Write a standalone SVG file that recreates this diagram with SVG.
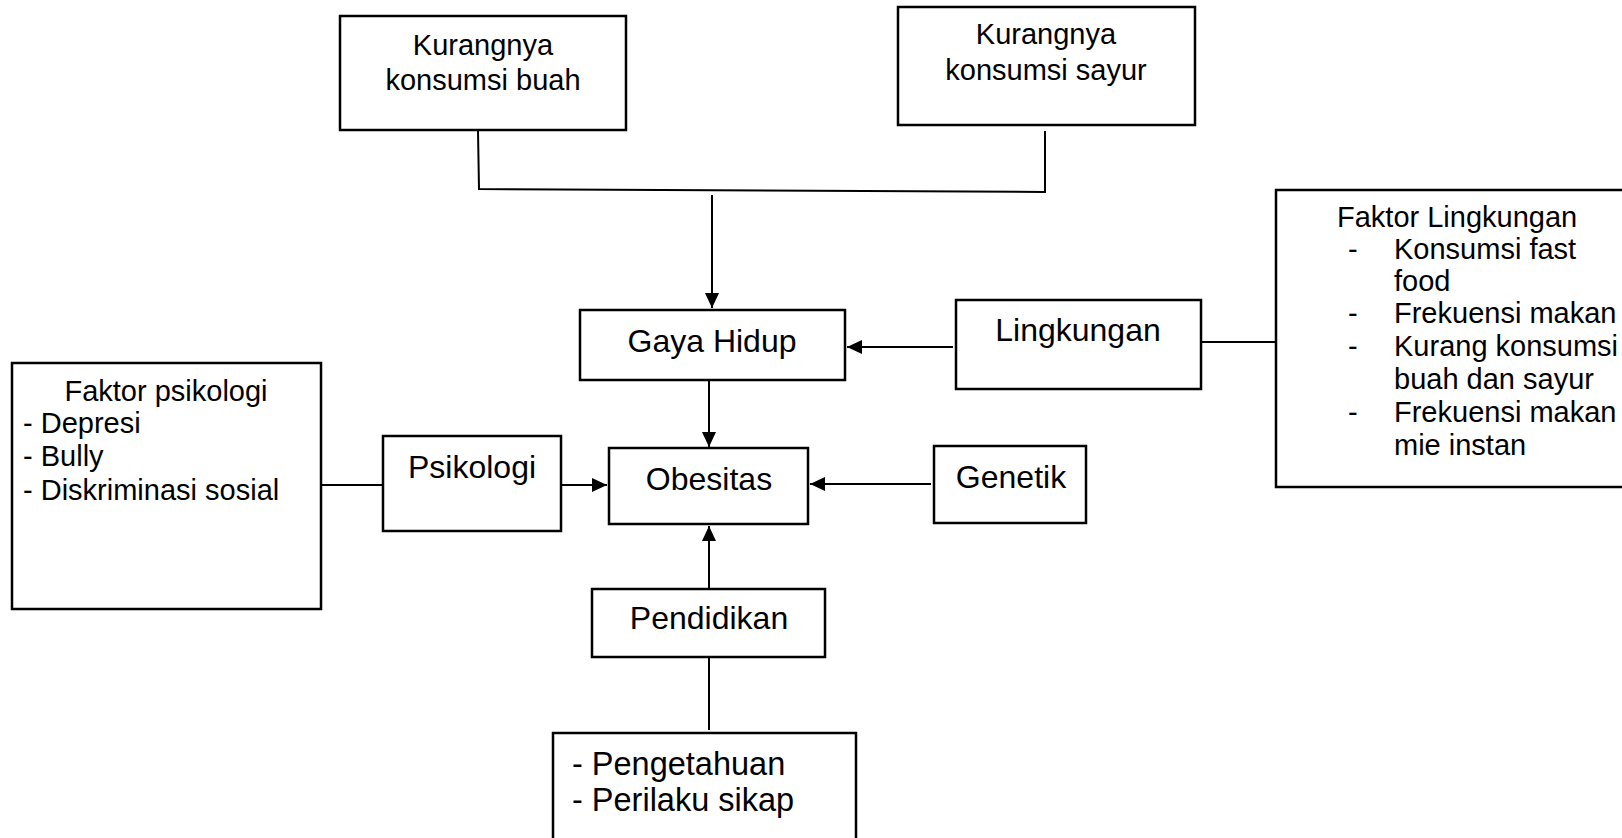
<svg xmlns="http://www.w3.org/2000/svg" width="1622" height="838" viewBox="0 0 1622 838">
<style>
.box{fill:#fff;stroke:#000;stroke-width:2.5}
.t{font-family:"Liberation Sans",Arial,sans-serif;font-size:29px;fill:#000}
.big{font-size:32px}
.c{text-anchor:middle}
.ln{stroke:#000;stroke-width:2;fill:none}
</style>
<defs>
<marker id="ah" markerUnits="userSpaceOnUse" markerWidth="16" markerHeight="14" refX="15" refY="7" orient="auto">
<path d="M0,0 L15,7 L0,14 Z" fill="#000"/>
</marker>
</defs>
<rect width="1622" height="838" fill="#fff"/>
<g id="connectors">
<polyline class="ln" points="478,131 479,189 1044,192"/>
<line class="ln" x1="1045" y1="131" x2="1045" y2="193"/>
<line class="ln" x1="712" y1="195" x2="712" y2="308" marker-end="url(#ah)"/>
<line class="ln" x1="953" y1="347" x2="847" y2="347" marker-end="url(#ah)"/>
<line class="ln" x1="1202" y1="342" x2="1275" y2="342"/>
<line class="ln" x1="709" y1="381" x2="709" y2="447" marker-end="url(#ah)"/>
<line class="ln" x1="931" y1="484" x2="810" y2="484" marker-end="url(#ah)"/>
<line class="ln" x1="562" y1="485" x2="607" y2="485" marker-end="url(#ah)"/>
<line class="ln" x1="321" y1="485" x2="383" y2="485"/>
<line class="ln" x1="709" y1="589" x2="709" y2="526" marker-end="url(#ah)"/>
<line class="ln" x1="709" y1="657" x2="709" y2="730"/>
</g>
<g id="buah">
<rect class="box" x="340" y="16" width="286" height="114"/>
<text class="t c" x="483" y="55">Kurangnya</text>
<text class="t c" x="483" y="90">konsumsi buah</text>
</g>
<g id="sayur">
<rect class="box" x="898" y="7" width="297" height="118"/>
<text class="t c" x="1046" y="44">Kurangnya</text>
<text class="t c" x="1046" y="80">konsumsi sayur</text>
</g>
<g id="gayahidup">
<rect class="box" x="580" y="310" width="265" height="70"/>
<text class="t big c" x="712" y="352">Gaya Hidup</text>
</g>
<g id="lingkungan">
<rect class="box" x="956" y="300" width="245" height="89"/>
<text class="t big c" x="1078" y="341">Lingkungan</text>
</g>
<g id="faktorlingkungan">
<rect class="box" x="1276" y="190" width="360" height="297"/>
<text class="t" x="1337" y="227">Faktor Lingkungan</text>
<text class="t" x="1348" y="259">-</text>
<text class="t" x="1394" y="259">Konsumsi fast</text>
<text class="t" x="1394" y="291">food</text>
<text class="t" x="1348" y="323">-</text>
<text class="t" x="1394" y="323">Frekuensi makan</text>
<text class="t" x="1348" y="356">-</text>
<text class="t" x="1394" y="356">Kurang konsumsi</text>
<text class="t" x="1394" y="389">buah dan sayur</text>
<text class="t" x="1348" y="422">-</text>
<text class="t" x="1394" y="422">Frekuensi makan</text>
<text class="t" x="1394" y="455">mie instan</text>
</g>
<g id="obesitas">
<rect class="box" x="609" y="448" width="199" height="76"/>
<text class="t big c" x="709" y="490">Obesitas</text>
</g>
<g id="genetik">
<rect class="box" x="934" y="446" width="152" height="77"/>
<text class="t big c" x="1011" y="488">Genetik</text>
</g>
<g id="psikologi">
<rect class="box" x="383" y="436" width="178" height="95"/>
<text class="t big c" x="472" y="478">Psikologi</text>
</g>
<g id="faktorpsikologi">
<rect class="box" x="12" y="363" width="309" height="246"/>
<text class="t c" x="166" y="401">Faktor psikologi</text>
<text class="t" x="23" y="433">- Depresi</text>
<text class="t" x="23" y="466">- Bully</text>
<text class="t" x="23" y="500">- Diskriminasi sosial</text>
</g>
<g id="pendidikan">
<rect class="box" x="592" y="589" width="233" height="68"/>
<text class="t big c" x="709" y="629">Pendidikan</text>
</g>
<g id="pengetahuan">
<rect class="box" x="553" y="733" width="303" height="120"/>
<text class="t" x="572" y="775" style="font-size:32.5px">- Pengetahuan</text>
<text class="t" x="572" y="811" style="font-size:32.5px">- Perilaku sikap</text>
</g>
</svg>
